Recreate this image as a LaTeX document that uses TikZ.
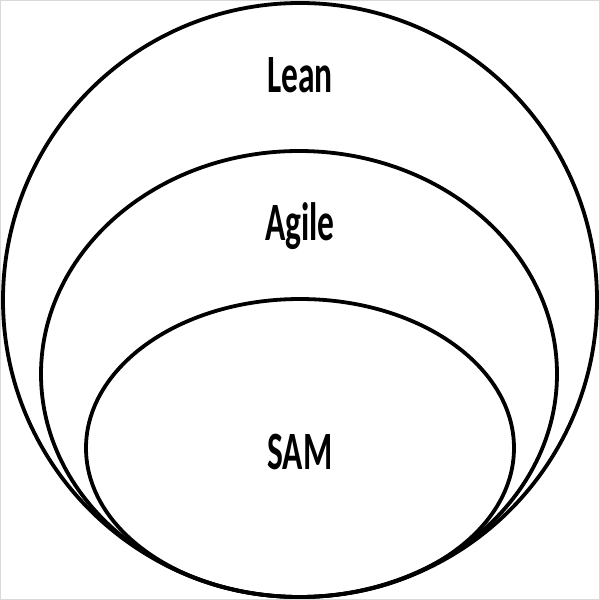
\documentclass[tikz,border=0pt]{standalone}
\usepackage{fontspec}
\setmainfont{Carlito}
\begin{document}
\begin{tikzpicture}[x=0.5pt,y=-0.5pt,
  ring/.style={draw=black,line width=1.9pt},
  tag/.style={font=\fontsize{27}{30}\selectfont\bfseries,anchor=base,inner sep=0pt,xscale=0.62}]
  % page frame
  \fill[white] (0,0) rectangle (600,600);
  \draw[black!15,line width=0.5pt] (0.5,0.5) rectangle (599.5,599.5);
  \useasboundingbox (0,0) rectangle (600,600);
  % nested rings, all touching at the bottom
  \draw[ring] (300,300) ellipse [x radius=297,y radius=297];
  \draw[ring] (299,374) ellipse [x radius=258,y radius=223];
  \draw[ring] (300,448) ellipse [x radius=214,y radius=149];
  % labels
  \node[tag] (lean) at (300,92) {Lean};
  \node[tag] (agile) at (300,240) {Agile};
  \node[tag] (sam) at (300,469) {SAM};
\end{tikzpicture}
\end{document}
